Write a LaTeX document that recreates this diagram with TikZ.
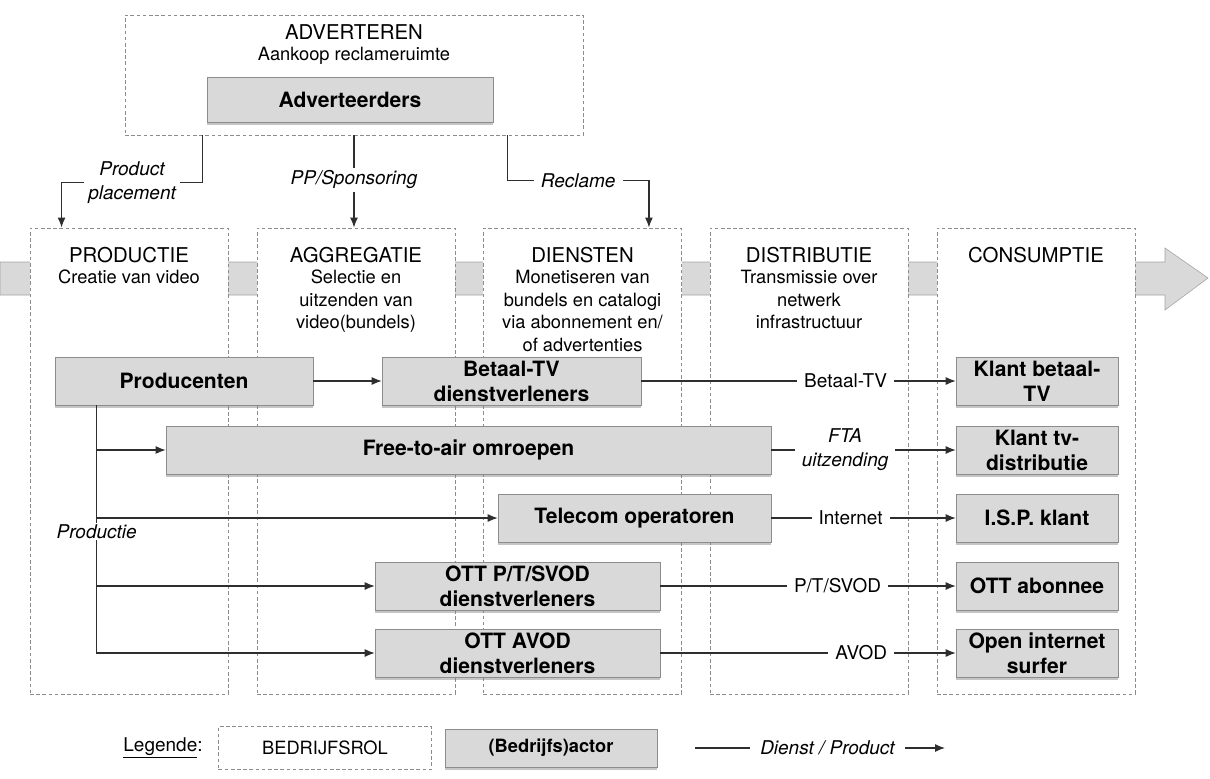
\documentclass[tikz,border=0pt]{standalone}
\usepackage{fontspec}
\setmainfont{TeX Gyre Heros}
\usetikzlibrary{arrows.meta,shadows}
\definecolor{actorgray}{HTML}{D9D9D9}
\definecolor{linegray}{HTML}{8C8C8C}
\definecolor{inkgray}{HTML}{2E2E2E}

\begin{document}
\begin{tikzpicture}
  [x=0.025cm, y=-0.025cm,
   role/.style={draw=linegray, line width=0.6pt, dash pattern=on 2.6pt off 1.8pt, fill=white, inner sep=0pt},
   actor/.style={draw=linegray, fill=actorgray, align=center, inner sep=1pt,
     minimum height=1.2cm, font=\fontsize{15}{17.8}\selectfont\bfseries,
     drop shadow={shadow xshift=0pt, shadow yshift=-2pt, opacity=0.45}},
   head/.style={font=\fontsize{14.5}{16}\selectfont, inner sep=0pt},
   sub/.style={font=\fontsize{13}{16}\selectfont, align=center, anchor=north, inner sep=0pt},
   flow/.style={draw=inkgray, line width=0.8pt, -{Latex[length=2.5mm, width=2mm]}},
   lbl/.style={fill=white, font=\fontsize{13.5}{15.6}\selectfont, inner xsep=5pt, inner ysep=2pt}]

  \useasboundingbox (0,0) rectangle (1210,778);

  % Value chain arrow behind the columns
  \draw[draw=linegray!80, fill=actorgray] (0,262) -- (1165,262) -- (1165,248) -- (1208,278)
    -- (1165,310) -- (1165,295) -- (0,295) -- cycle;

  % Roles (dashed boxes)
  \node[role, minimum width=11.45cm, minimum height=3cm] (advbox) at (354,75) {};
  \node[role, minimum width=4.95cm, minimum height=11.65cm] (prodbox) at (129,461) {};
  \node[role, minimum width=4.95cm, minimum height=11.65cm] (aggrbox) at (356,461) {};
  \node[role, minimum width=4.95cm, minimum height=11.65cm] (dienbox) at (582.5,461) {};
  \node[role, minimum width=4.95cm, minimum height=11.65cm] (distbox) at (809,461) {};
  \node[role, minimum width=4.95cm, minimum height=11.65cm] (consbox) at (1036,461) {};

  % Role titles
  \node[head] (advhead) at (354,32) {ADVERTEREN};
  \node[sub, anchor=center] (advsub) at (354,56) {Aankoop reclameruimte};
  \node[head] (prodhead) at (129,255) {PRODUCTIE};
  \node[sub] (prodsub) at (129,270) {Creatie van video};
  \node[head] (aggrhead) at (356,255) {AGGREGATIE};
  \node[sub] (aggrsub) at (356,270) {Selectie en\\uitzenden van\\video(bundels)};
  \node[head] (dienhead) at (582.5,255) {DIENSTEN};
  \node[sub] (diensub) at (582.5,270) {Monetiseren van\\bundels en catalogi\\via abonnement en/\\of advertenties};
  \node[head] (disthead) at (809,255) {DISTRIBUTIE};
  \node[sub] (distsub) at (809,270) {Transmissie over\\netwerk\\infrastructuur};
  \node[head] (conshead) at (1036,255) {CONSUMPTIE};

  % Actors
  \node[actor, minimum width=7.15cm, minimum height=1.125cm] (adv) at (350,100) {Adverteerders};
  \node[actor, minimum width=6.45cm] (prod) at (184,381) {Producenten};
  \node[actor, minimum width=6.475cm] (betaal) at (511.5,381) {Betaal-TV\\dienstverleners};
  \node[actor, minimum width=15.125cm] (fta) at (468.5,450) {Free-to-air omroepen};
  \node[actor, minimum width=6.825cm] (telecom) at (634.5,518) {Telecom operatoren};
  \node[actor, minimum width=7.125cm] (ottp) at (517.5,586) {OTT P/T/SVOD\\dienstverleners};
  \node[actor, minimum width=7.125cm] (ottavod) at (517.5,653) {OTT AVOD\\dienstverleners};
  \node[actor, minimum width=4.05cm] (kbetaal) at (1037,381) {Klant betaal-\\TV};
  \node[actor, minimum width=4.05cm] (ktv) at (1037,450) {Klant tv-\\distributie};
  \node[actor, minimum width=4.05cm] (isp) at (1037,518) {I.S.P. klant};
  \node[actor, minimum width=4.05cm] (ottabo) at (1037,586) {OTT abonnee};
  \node[actor, minimum width=4.05cm] (surfer) at (1037,653) {Open internet\\surfer};

  % Advertising flows
  \draw[flow] ([xshift=1.95cm]advbox.south west) -- ++(0,47)
    -| node[lbl, pos=0.25, align=center, inner xsep=3pt, font=\fontsize{13.5}{17}\selectfont\itshape] {Product\\placement}
    ([xshift=0.8cm]prodbox.north west);
  \draw[flow] (advbox.south) -- node[lbl, pos=0.48, font=\fontsize{13.5}{15.6}\selectfont\itshape] {PP/Sponsoring}
    (advbox.south |- aggrbox.north);
  \draw[flow] ([xshift=-1.9cm]advbox.south east) -- ++(0,45)
    -| node[lbl, pos=0.25, font=\fontsize{13.5}{15.6}\selectfont\itshape] {Reclame}
    ([xshift=-0.825cm]dienbox.north east);

  % Production flows
  \coordinate (split) at ([xshift=1.05cm]prod.south west);
  \draw[flow] (prod) -- (betaal);
  \draw[flow] (split) |- (ottavod.west);
  \draw[flow] (split) |- (fta.west);
  \draw[flow] (split) |- (telecom.west);
  \draw[flow] (split) |- node[lbl, pos=0.35, inner xsep=2pt, inner ysep=1pt, font=\fontsize{13.5}{15.6}\selectfont\itshape] {Productie} (ottp.west);

  % Services to consumers
  \draw[flow] (betaal) -- node[lbl, pos=0.65] {Betaal-TV} (kbetaal);
  \draw[flow] (fta) -- node[lbl, pos=0.4, align=center, font=\fontsize{13.5}{17}\selectfont\itshape] {FTA\\uitzending} (ktv);
  \draw[flow] (telecom) -- node[lbl, pos=0.43] {Internet} (isp);
  \draw[flow] (ottp) -- node[lbl, pos=0.6] {P/T/SVOD} (ottabo);
  \draw[flow] (ottavod) -- node[lbl, pos=0.68] {AVOD} (surfer);

  % Legend
  \node[font=\fontsize{13.5}{15.6}\selectfont] (lgtitle) at (163,748) {\underline{Legende}:};
  \node[role, minimum width=5.325cm, minimum height=1.075cm, font=\fontsize{13}{15.6}\selectfont] (lgrole) at (325,748) {BEDRIJFSROL};
  \node[actor, minimum width=5.3cm, minimum height=0.95cm, font=\fontsize{13}{15.6}\selectfont\bfseries] (lgactor) at (551,748) {(Bedrijfs)actor};
  \coordinate (lgfrom) at (695,748);
  \coordinate (lgto) at (945,748);
  \draw[flow] (lgfrom) -- node[lbl, pos=0.53, inner xsep=7pt, font=\fontsize{13.5}{15.6}\selectfont\itshape] {Dienst / Product} (lgto);

\end{tikzpicture}
\end{document}
